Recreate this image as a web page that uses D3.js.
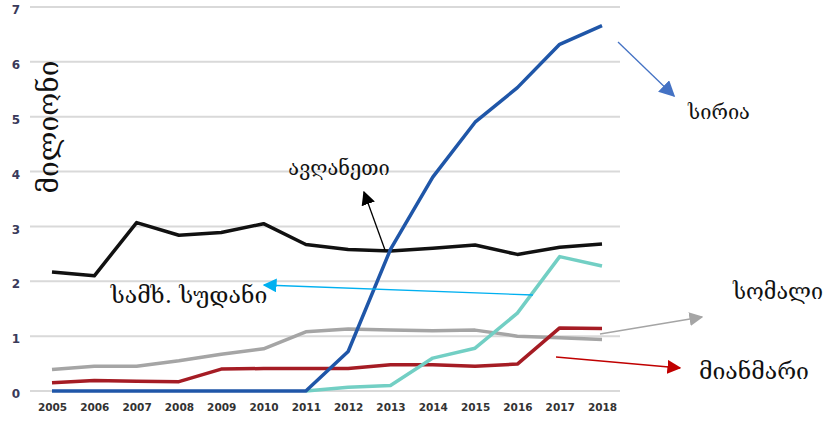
<!DOCTYPE html>
<html><head><meta charset="utf-8">
<script src="https://cdn.jsdelivr.net/npm/d3@7"></script>
<style>body{margin:0;background:#fff}svg{display:block}</style>
</head><body>
<script>
const years = [2005,2006,2007,2008,2009,2010,2011,2012,2013,2014,2015,2016,2017,2018];
const yTicks = [0,1,2,3,4,5,6,7];
const syria = [0,0,0,0,0,0,0,0.72,2.58,3.9,4.9,5.53,6.32,6.66];
const afghanistan = [2.17,2.1,3.07,2.84,2.89,3.05,2.67,2.58,2.55,2.6,2.66,2.49,2.62,2.68];
const somalia = [0.39,0.45,0.45,0.55,0.67,0.77,1.08,1.13,1.11,1.1,1.11,1.0,0.97,0.94];
const myanmar = [0.15,0.19,0.18,0.17,0.4,0.41,0.41,0.41,0.48,0.48,0.45,0.49,1.15,1.14];
const southSudan = [null,null,null,null,null,null,0,0.07,0.1,0.6,0.78,1.42,2.45,2.28];
const series = [
  {name:"somalia", values:somalia, color:"#a5a5a5"},
  {name:"myanmar", values:myanmar, color:"#a51c24"},
  {name:"southSudan", values:southSudan, color:"#72cfc4"},
  {name:"afghanistan", values:afghanistan, color:"#111111"},
  {name:"syria", values:syria, color:"#1f56a8"}
];
const W=829,H=425;
const svg=d3.select("body").append("svg").attr("width",W).attr("height",H);
const x=d3.scalePoint().domain(years).range([52,602]);
const y=d3.scaleLinear().domain([0,7]).range([391,7]);
// grid
svg.append("g").selectAll("line").data(yTicks).join("line")
  .attr("x1",30).attr("x2",620).attr("y1",d=>y(d)).attr("y2",d=>y(d))
  .attr("stroke","#d9d9d9").attr("stroke-width",2);
// y axis labels
const ya=svg.append("g").attr("transform","translate(16,0)").call(d3.axisLeft(y).tickValues(yTicks).tickFormat(d3.format("d")).tickSize(0).tickPadding(0));
ya.select(".domain").remove();
ya.selectAll("text").attr("font-family","'DejaVu Sans',sans-serif").attr("font-weight","bold").attr("font-size",12).attr("fill","#3a3a5a").attr("text-anchor","middle").attr("dy","0.55em");
// x axis labels
const xa=svg.append("g").attr("transform","translate(0,404)").call(d3.axisBottom(x).tickSize(0).tickPadding(0));
xa.select(".domain").remove();
xa.selectAll("text").attr("font-family","'DejaVu Sans',sans-serif").attr("font-weight","bold").attr("font-size",10.5).attr("fill","#333").attr("dy","0.71em");
// lines
const line=d3.line().defined(d=>d.v!=null).x(d=>x(d.yr)).y(d=>y(d.v));
svg.append("g").selectAll("path").data(series).join("path")
  .attr("d",s=>line(s.values.map((v,i)=>({yr:years[i],v}))))
  .attr("fill","none").attr("stroke",s=>s.color).attr("stroke-width",3.5).attr("stroke-linejoin","round");
// y title
svg.append("text").attr("transform","translate(58,127) rotate(-90)").attr("text-anchor","middle")
  .attr("font-family","'DejaVu Serif',serif").attr("font-size",28).attr("fill","#111").text("მილიონი");
// annotations
const defs=svg.append("defs");
const anns=[
  {text:"ავღანეთი",tx:339,ty:175,fs:20,color:"#000",from:[385,250],to:[364,192],mw:14},
  {text:"სირია",tx:719,ty:119,fs:20,color:"#4472c4",from:[618,42],to:[674,96],mw:16},
  {text:"სამხ. სუდანი",tx:189,ty:303,fs:23,color:"#00b0f0",from:[533,295],to:[264,285],mw:14},
  {text:"სომალი",tx:778,ty:299,fs:21.5,color:"#a5a5a5",from:[600,334],to:[702,317],mw:14},
  {text:"მიანმარი",tx:754,ty:379,fs:23,color:"#c00000",from:[556,357],to:[680,368],mw:14}
];
anns.forEach((a,i)=>{
  defs.append("marker").attr("id","m"+i).attr("viewBox","0 0 10 10").attr("refX",9).attr("refY",5)
   .attr("markerWidth",a.mw).attr("markerHeight",a.mw).attr("markerUnits","userSpaceOnUse").attr("orient","auto")
   .append("path").attr("d","M0,0L10,5L0,10z").attr("fill",a.color);
  svg.append("line").attr("x1",a.from[0]).attr("y1",a.from[1]).attr("x2",a.to[0]).attr("y2",a.to[1])
    .attr("stroke",a.color).attr("stroke-width",1.3).attr("marker-end","url(#m"+i+")");
  svg.append("text").attr("x",a.tx).attr("y",a.ty).attr("text-anchor","middle")
    .attr("font-family","'DejaVu Serif',serif").attr("font-size",a.fs).attr("fill","#111").text(a.text);
});
</script>
</body></html>
